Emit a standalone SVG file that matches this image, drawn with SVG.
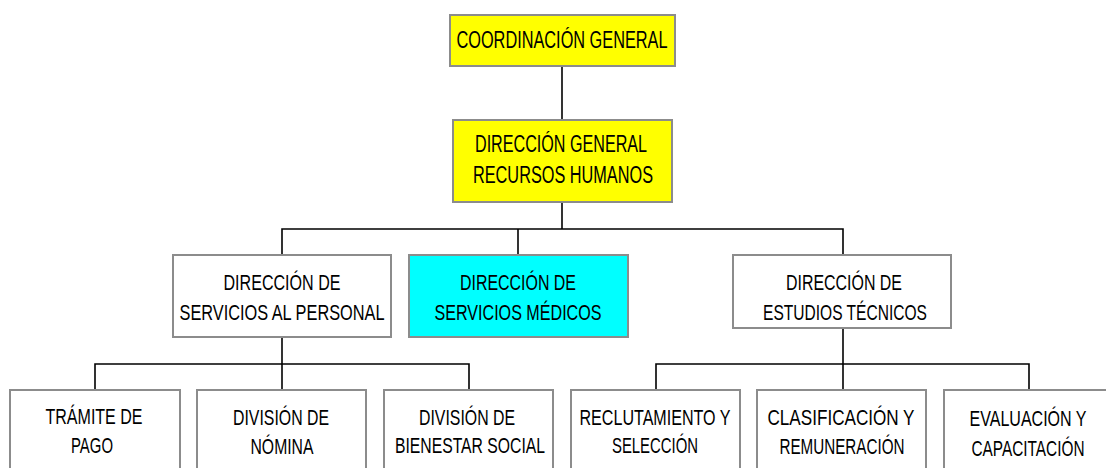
<svg xmlns="http://www.w3.org/2000/svg" width="1106" height="468" viewBox="0 0 1106 468">
<style>
.box{stroke:#8c8c8c;stroke-width:2}
.w{fill:#ffffff}
.y{fill:#ffff00}
.c{fill:#00ffff}
.t{font-family:"Liberation Sans Narrow","Liberation Sans",Arial,sans-serif;font-size:22px;fill:#000;text-anchor:middle}
.big{font-size:23px}
.ln{stroke:#000;stroke-width:1.6;fill:none}
</style>
<rect width="1106" height="468" fill="#fff"/>
<g id="connectors">
<line class="ln" x1="562" y1="66" x2="562" y2="120"/>
<line class="ln" x1="562" y1="202" x2="562" y2="229"/>
<polyline class="ln" points="282,255 282,229 843,229 843,255"/>
<line class="ln" x1="518" y1="229" x2="518" y2="255"/>
<line class="ln" x1="282" y1="337" x2="282" y2="364"/>
<polyline class="ln" points="95,390 95,364 469,364 469,390"/>
<line class="ln" x1="282" y1="364" x2="282" y2="390"/>
<line class="ln" x1="843" y1="328" x2="843" y2="390"/>
<polyline class="ln" points="656,390 656,364 1029,364 1029,390"/>
</g>
<g id="coord">
<rect class="box y" x="450" y="15" width="225" height="51"/>
<text class="t big" x="562" y="48" textLength="211" lengthAdjust="spacingAndGlyphs">COORDINACIÓN GENERAL</text>
</g>
<g id="dgrh">
<rect class="box y" x="453" y="120" width="219" height="82"/>
<text class="t big" x="561" y="152" textLength="172" lengthAdjust="spacingAndGlyphs">DIRECCIÓN GENERAL</text>
<text class="t big" x="563" y="183" textLength="180" lengthAdjust="spacingAndGlyphs">RECURSOS HUMANOS</text>
</g>
<g id="dsp">
<rect class="box w" x="173" y="255" width="218" height="82"/>
<text class="t" x="282" y="290" textLength="117" lengthAdjust="spacingAndGlyphs">DIRECCIÓN DE</text>
<text class="t" x="282" y="320" textLength="205" lengthAdjust="spacingAndGlyphs">SERVICIOS AL PERSONAL</text>
</g>
<g id="dsm">
<rect class="box c" x="409" y="255" width="219" height="82"/>
<text class="t" x="518" y="290" textLength="116" lengthAdjust="spacingAndGlyphs">DIRECCIÓN DE</text>
<text class="t" x="518" y="320" textLength="167" lengthAdjust="spacingAndGlyphs">SERVICIOS MÉDICOS</text>
</g>
<g id="det">
<rect class="box w" x="733" y="255" width="218" height="73"/>
<text class="t" x="844" y="290" textLength="116" lengthAdjust="spacingAndGlyphs">DIRECCIÓN DE</text>
<text class="t" x="845" y="320" textLength="164" lengthAdjust="spacingAndGlyphs">ESTUDIOS TÉCNICOS</text>
</g>
<g id="tramite">
<rect class="box w" x="10" y="390" width="170" height="84"/>
<text class="t" x="94" y="424" textLength="97" lengthAdjust="spacingAndGlyphs">TRÁMITE DE</text>
<text class="t" x="92" y="453" textLength="42" lengthAdjust="spacingAndGlyphs">PAGO</text>
</g>
<g id="nomina">
<rect class="box w" x="197" y="390" width="169" height="84"/>
<text class="t" x="281" y="425" textLength="96" lengthAdjust="spacingAndGlyphs">DIVISIÓN DE</text>
<text class="t" x="282" y="454" textLength="63" lengthAdjust="spacingAndGlyphs">NÓMINA</text>
</g>
<g id="bienestar">
<rect class="box w" x="384" y="390" width="169" height="84"/>
<text class="t" x="467" y="425" textLength="96" lengthAdjust="spacingAndGlyphs">DIVISIÓN DE</text>
<text class="t" x="470" y="453" textLength="150" lengthAdjust="spacingAndGlyphs">BIENESTAR SOCIAL</text>
</g>
<g id="reclutamiento">
<rect class="box w" x="571" y="390" width="169" height="84"/>
<text class="t" x="655" y="425" textLength="151" lengthAdjust="spacingAndGlyphs">RECLUTAMIENTO Y</text>
<text class="t" x="655" y="453" textLength="86" lengthAdjust="spacingAndGlyphs">SELECCIÓN</text>
</g>
<g id="clasificacion">
<rect class="box w" x="757" y="390" width="169" height="84"/>
<text class="t" x="841" y="425" textLength="147" lengthAdjust="spacingAndGlyphs">CLASIFICACIÓN Y</text>
<text class="t" x="842" y="454" textLength="125" lengthAdjust="spacingAndGlyphs">REMUNERACIÓN</text>
</g>
<g id="evaluacion">
<rect class="box w" x="944" y="390" width="163" height="84"/>
<text class="t" x="1028" y="426" textLength="117" lengthAdjust="spacingAndGlyphs">EVALUACIÓN Y</text>
<text class="t" x="1028" y="456" textLength="113" lengthAdjust="spacingAndGlyphs">CAPACITACIÓN</text>
</g>
</svg>
